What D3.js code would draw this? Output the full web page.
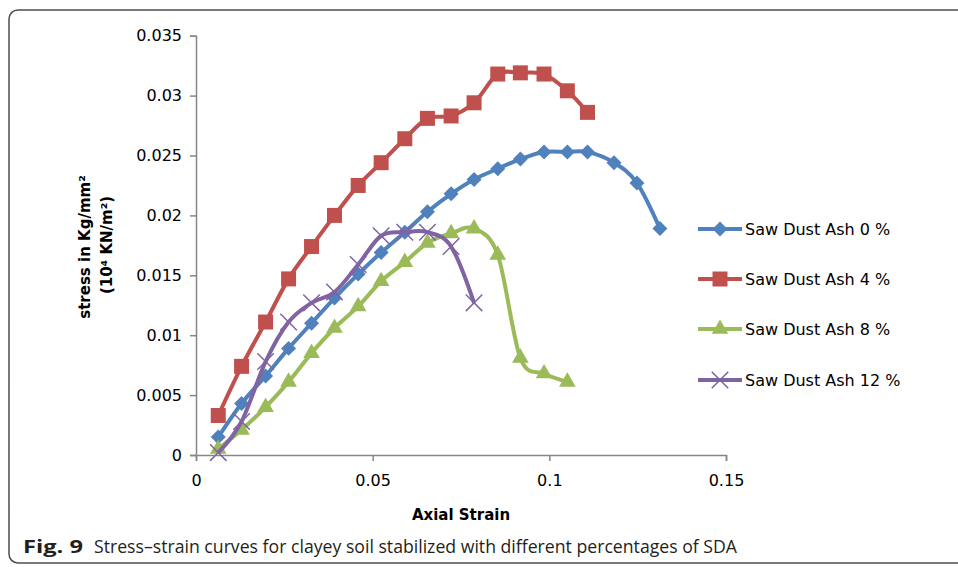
<!DOCTYPE html>
<meta charset="utf-8">
<style>
body { margin: 0; background: #fff; }
svg text { font-family: "DejaVu Sans", sans-serif; fill: #000; }
.axis path, .axis line { stroke: #868686; stroke-width: 1.5; }
.axis text { font-size: 16px; }
.title { font-weight: bold; font-size: 15px; }
.caption { font-family: "Open Sans", sans-serif; font-size: 18px; fill: #231f20; }
</style>
<body>
<div id="chart"></div>
<script src="https://d3js.org/d3.v7.min.js"></script>
<script>

// values
var strain = [0.0063, 0.0129, 0.0197, 0.0262, 0.0327, 0.0392, 0.0459, 0.0524, 0.0591, 0.0655,
              0.0722, 0.0787, 0.0854, 0.0918, 0.0985, 0.1051, 0.1108, 0.1183, 0.1248, 0.1313];

var sda0  = [0.0015, 0.0043, 0.0066, 0.0089, 0.0110, 0.0131, 0.0151, 0.0169, 0.0186, 0.0203,
             0.0218, 0.0230, 0.0239, 0.0247, 0.0253, 0.0253, 0.0253, 0.0244, 0.0227, 0.0189];
var sda4  = [0.0033, 0.0074, 0.0111, 0.0147, 0.0174, 0.0200, 0.0225, 0.0244, 0.0264, 0.0281,
             0.0283, 0.0294, 0.0318, 0.0319, 0.0318, 0.0304, 0.0286];
var sda8  = [0.0005, 0.0021, 0.0040, 0.0061, 0.0085, 0.0106, 0.0124, 0.0145, 0.0161, 0.0177,
             0.0185, 0.0189, 0.0167, 0.0081, 0.0068, 0.0061];
var sda12 = [0.0002, 0.0028, 0.0078, 0.0111, 0.0127, 0.0136, 0.0159, 0.0183, 0.0186, 0.0186,
             0.0174, 0.0127];

var seriesNames = ["Saw Dust Ash 0 %", "Saw Dust Ash 4 %", "Saw Dust Ash 8 %", "Saw Dust Ash 12 %"];
var seriesValues = [sda0, sda4, sda8, sda12];
var colors = ["#4F81BD", "#C0504D", "#9BBB59", "#8064A2"];

var xTicks = [0, 0.05, 0.1, 0.15];
var xTickLabels = ["0", "0.05", "0.1", "0.15"];
var yTicks = [0, 0.005, 0.01, 0.015, 0.02, 0.025, 0.03, 0.035];
var yTickLabels = ["0", "0.005", "0.01", "0.015", "0.02", "0.025", "0.03", "0.035"];

var W = 958, H = 567;

var svg = d3.select("#chart").append("svg")
    .attr("width", W)
    .attr("height", H);

// outer frame (runs off the right edge)
svg.append("rect")
    .attr("x", 9).attr("y", 10)
    .attr("width", 1000).attr("height", 553)
    .attr("rx", 9)
    .attr("fill", "none")
    .attr("stroke", "#4d4d4d")
    .attr("stroke-width", 1.5);

var x = d3.scaleLinear().domain([0, 0.15]).range([196, 726]);
var y = d3.scaleLinear().domain([0, 0.035]).range([455, 35.7]);

svg.append("g")
    .attr("class", "axis")
    .attr("transform", "translate(0,455)")
    .call(d3.axisBottom(x).tickValues(xTicks)
      .tickFormat(function(d, i) { return xTickLabels[i]; })
      .tickSizeOuter(0).tickSize(6).tickPadding(14));

svg.append("g")
    .attr("class", "axis")
    .attr("transform", "translate(196,0)")
    .call(d3.axisLeft(y).tickValues(yTicks)
      .tickFormat(function(d, i) { return yTickLabels[i]; })
      .tickSizeOuter(0).tickSize(6).tickPadding(8));

svg.selectAll(".axis text").attr("fill", "#000");

// axis titles
svg.append("text")
    .attr("class", "title")
    .attr("x", 461).attr("y", 520)
    .attr("text-anchor", "middle")
    .text("Axial Strain");

svg.append("text")
    .attr("class", "title")
    .attr("transform", "translate(85,247) rotate(-90)")
    .attr("dy", "0.35em")
    .attr("text-anchor", "middle")
    .text("stress in Kg/mm²");

svg.append("text")
    .attr("class", "title")
    .attr("transform", "translate(107,245) rotate(-90)")
    .attr("dy", "0.35em")
    .attr("text-anchor", "middle")
    .text("(10⁴ KN/m²)");

// markers
var markers = [
  { type: d3.symbolSquare,   size: 112, rotate: 45, stroke: false },
  { type: d3.symbolSquare,   size: 225, rotate: 0,  stroke: false },
  { type: d3.symbolTriangle, size: 120, rotate: 0,  stroke: false },
  { type: d3.symbolTimes,    size: 180, rotate: 0,  stroke: true }
];

function drawMarker(g, k, px, py) {
  var m = markers[k];
  var p = g.append("path")
      .attr("d", d3.symbol().type(m.type).size(m.size)())
      .attr("transform", "translate(" + px + "," + py + ") rotate(" + m.rotate + ")");
  if (m.stroke) {
    p.attr("fill", "none").attr("stroke", colors[k]).attr("stroke-width", 1.5);
  } else {
    p.attr("fill", colors[k]);
  }
}

var line = d3.line()
    .x(function(d) { return x(d[0]); })
    .y(function(d) { return y(d[1]); })
    .curve(d3.curveCardinal.tension(0));

seriesValues.forEach(function(vals, k) {
  var pts = vals.map(function(v, i) { return [strain[i], v]; });
  var g = svg.append("g");
  g.append("path")
      .datum(pts)
      .attr("d", line)
      .attr("fill", "none")
      .attr("stroke", colors[k])
      .attr("stroke-width", 4)
      .attr("stroke-linejoin", "round");
  pts.forEach(function(p) { drawMarker(g, k, x(p[0]), y(p[1])); });
});

// legend
var legendY = [229, 279, 329, 380];
seriesNames.forEach(function(name, k) {
  var g = svg.append("g");
  g.append("line")
      .attr("x1", 698).attr("x2", 742)
      .attr("y1", legendY[k]).attr("y2", legendY[k])
      .attr("stroke", colors[k]).attr("stroke-width", 4);
  drawMarker(g, k, 720, legendY[k]);
  g.append("text")
      .attr("x", 745).attr("y", legendY[k])
      .attr("dy", "0.35em")
      .style("font-size", "16px")
      .text(name);
});

// caption
svg.append("text")
    .attr("class", "caption")
    .attr("x", 23).attr("y", 553)
    .attr("textLength", 60)
    .attr("lengthAdjust", "spacingAndGlyphs")
    .style("font-weight", "bold")
    .text("Fig. 9");

svg.append("text")
    .attr("class", "caption")
    .attr("x", 94).attr("y", 553)
    .attr("textLength", 643)
    .attr("lengthAdjust", "spacingAndGlyphs")
    .text("Stress–strain curves for clayey soil stabilized with different percentages of SDA");

</script>
</body>
